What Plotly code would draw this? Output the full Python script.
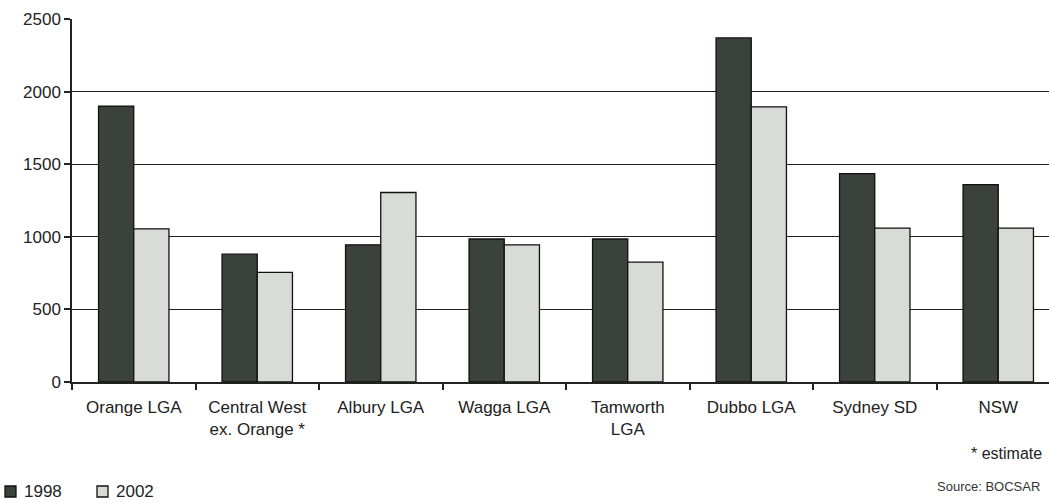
import plotly.graph_objects as go

categories = ["Orange LGA", "Central West<br>ex. Orange *", "Albury LGA", "Wagga LGA",
              "Tamworth<br>LGA", "Dubbo LGA", "Sydney SD", "NSW"]
values_1998 = [1900, 880, 945, 985, 985, 2370, 1435, 1360]
values_2002 = [1055, 755, 1305, 945, 825, 1895, 1060, 1060]
y_ticks = [0, 500, 1000, 1500, 2000, 2500]

W, H = 1049, 502
ML, MR, MT, MB = 72, 0, 19, 120
pw, ph = W - ML - MR, H - MT - MB

FONT = "Liberation Sans, Arial, sans-serif"
C98 = "#3b413d"
C02 = "#d8dbd8"

fig = go.Figure()
fig.add_trace(go.Bar(x=categories, y=values_1998, name="1998",
                     marker=dict(color=C98, line=dict(color="#111", width=1.3))))
fig.add_trace(go.Bar(x=categories, y=values_2002, name="2002",
                     marker=dict(color=C02, line=dict(color="#111", width=1.3))))

step = 123.5
xmax = -0.5 + pw / step

fig.update_layout(
    width=W, height=H,
    margin=dict(l=ML, r=MR, t=MT, b=MB, pad=0),
    paper_bgcolor="white", plot_bgcolor="white",
    barmode="group", bargap=0.43, bargroupgap=0,
    showlegend=False,
    font=dict(family=FONT, size=17, color="#222"),
    xaxis=dict(range=[-0.5, xmax], showgrid=False, showline=True, linecolor="#222",
               linewidth=1.5, ticks="outside", tickson="boundaries", ticklen=6,
               tickcolor="#222", tickwidth=1.5, ticklabelstandoff=9,
               tickfont=dict(size=17, family=FONT)),
    yaxis=dict(range=[0, 2500], tickvals=y_ticks, showgrid=True, gridcolor="#222",
               gridwidth=1.3, showline=True, linecolor="#222", linewidth=1.5,
               ticks="outside", ticklen=6, tickcolor="#222", tickwidth=1.5,
               tickfont=dict(size=17, family=FONT), zeroline=False),
)

def px_to_paper_x(px):
    return (px - ML) / pw

def px_to_paper_y(py):
    return (H - MB - py) / ph

# Legend squares and labels
for x0, col, label in [(5, C98, "1998"), (97, C02, "2002")]:
    fig.add_shape(type="rect", xref="paper", yref="paper",
                  x0=px_to_paper_x(x0), x1=px_to_paper_x(x0 + 11),
                  y0=px_to_paper_y(497), y1=px_to_paper_y(486),
                  fillcolor=col, line=dict(color="#111", width=1.3))
    fig.add_annotation(text=label, xref="paper", yref="paper",
                       x=px_to_paper_x(x0 + 17), y=px_to_paper_y(491),
                       xanchor="left", yanchor="middle", showarrow=False,
                       font=dict(size=17, family=FONT, color="#222"))

fig.add_annotation(text="* estimate", xref="paper", yref="paper",
                   x=px_to_paper_x(1044), y=px_to_paper_y(453),
                   xanchor="right", yanchor="middle", showarrow=False,
                   font=dict(size=16, family=FONT, color="#222"))
fig.add_annotation(text="Source: BOCSAR", xref="paper", yref="paper",
                   x=px_to_paper_x(1042), y=px_to_paper_y(486),
                   xanchor="right", yanchor="middle", showarrow=False,
                   font=dict(size=13, family=FONT, color="#333"))

fig.write_html("out.html")
